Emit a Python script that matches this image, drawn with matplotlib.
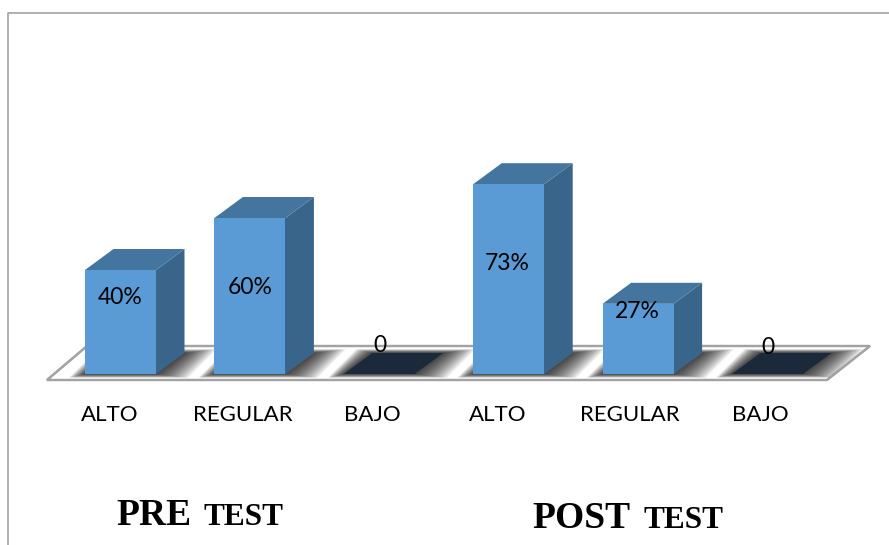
import matplotlib
matplotlib.use('Agg')
import matplotlib.pyplot as plt
from matplotlib.patches import Polygon

categories = ['ALTO', 'REGULAR', 'BAJO', 'ALTO', 'REGULAR', 'BAJO']
values = [40, 60, 0, 73, 27, 0]
value_labels = ['40%', '60%', '0', '73%', '27%', '0']

# pixel layout of the picture
W, H = 889, 545
X0, STEP = 120.5, 129.4
Y0, SCALE = 374, 2.6
BAR_W = 71 / STEP
DX = 28.5 / STEP
DY = 21 / SCALE

FRONT = '#5b9bd5'
TOP = '#44759f'
SIDE = '#3a658b'
DARK = '#1b2a3a'
EDGE = '#a3a3a3'


def px(x, y):
    # pixel position to data position
    return (x - X0) / STEP, (Y0 - y) / SCALE


def main():
    fig = plt.figure(figsize=(W / 100, H / 100), dpi=100)
    ax = fig.add_axes([0, 0, 1, 1])
    ax.set_xlim(px(0, 0)[0], px(W, 0)[0])
    ax.set_ylim(px(0, H)[1], px(0, 0)[1])
    ax.axis('off')

    # outer frame, only top and left are in the crop
    ax.plot(*zip(px(8, H), px(8, 13), px(W, 13)), color=EDGE, lw=1.2, zorder=1)

    # floor
    floor_pts = [px(47, 380), px(827, 380), px(870, 346), px(87, 346)]
    floor = Polygon(floor_pts, closed=True, facecolor='white', edgecolor=EDGE, lw=1.6, zorder=2)
    ax.add_patch(floor)

    # soft shadow round each bar foot
    for i in range(len(values)):
        left = i - BAR_W / 2
        right = i + BAR_W / 2
        for grow in range(32, 0, -2):
            g = grow / STEP
            gy = grow * 0.12 / SCALE
            shadow = Polygon([(left - g * 0.5, -gy), (right + g, -gy),
                              (right + DX + g, DY + gy), (left + DX - g * 0.5, DY + gy)],
                             closed=True, facecolor='black', edgecolor='none', alpha=0.07, zorder=3)
            ax.add_patch(shadow)
            shadow.set_clip_path(floor)

    # floor edge again over the shadows
    ax.add_patch(Polygon(floor_pts, closed=True, facecolor='none', edgecolor=EDGE, lw=1.6, zorder=4))

    # 3d bars
    for i, val in enumerate(values):
        left = i - BAR_W / 2
        right = i + BAR_W / 2
        if val == 0:
            ax.add_patch(Polygon([(left, 0), (right, 0), (right + DX, DY), (left + DX, DY)],
                                 closed=True, facecolor=DARK, edgecolor='none', zorder=5))
            continue
        # side starts a bit behind the front so no seam shows
        ax.add_patch(Polygon([(right - 0.01, 0), (right, 0), (right + DX, DY), (right + DX, val + DY),
                              (right, val), (right - 0.01, val)],
                             closed=True, facecolor=SIDE, edgecolor='none', zorder=5))
        ax.add_patch(Polygon([(left, val), (right, val), (right + DX, val + DY), (left + DX, val + DY)],
                             closed=True, facecolor=TOP, edgecolor='none', zorder=5))
        ax.bar(i, val, width=BAR_W, color=FRONT, zorder=6)

    # value labels
    value_x = [120, 250, 380, 507, 637, 768]
    value_y = [297, 287, 346, 263, 311, 347]
    for i, lab in enumerate(value_labels):
        ax.text(*px(value_x[i], value_y[i]), lab, ha='center', va='center', fontsize=16.5,
                family='Lato', color='black', zorder=8)

    # category labels
    label_x = [110, 243, 372, 498, 630, 760]
    for i, cat in enumerate(categories):
        ax.text(*px(label_x[i], 415), cat, ha='center', va='center', fontsize=16,
                family='Lato', color='black', zorder=8)

    # group titles
    for big, small, x1, x2, y in [('PRE', 'TEST', 116, 203, 525), ('POST', 'TEST', 532, 644, 528)]:
        ax.text(*px(x1, y), big, ha='left', va='baseline', fontsize=27, fontweight='bold',
                family='Liberation Serif', color='black')
        ax.text(*px(x2, y), small, ha='left', va='baseline', fontsize=22.5, fontweight='bold',
                family='Liberation Serif', color='black')

    fig.savefig('out.png', dpi=100, facecolor='white')


if __name__ == '__main__':
    main()
